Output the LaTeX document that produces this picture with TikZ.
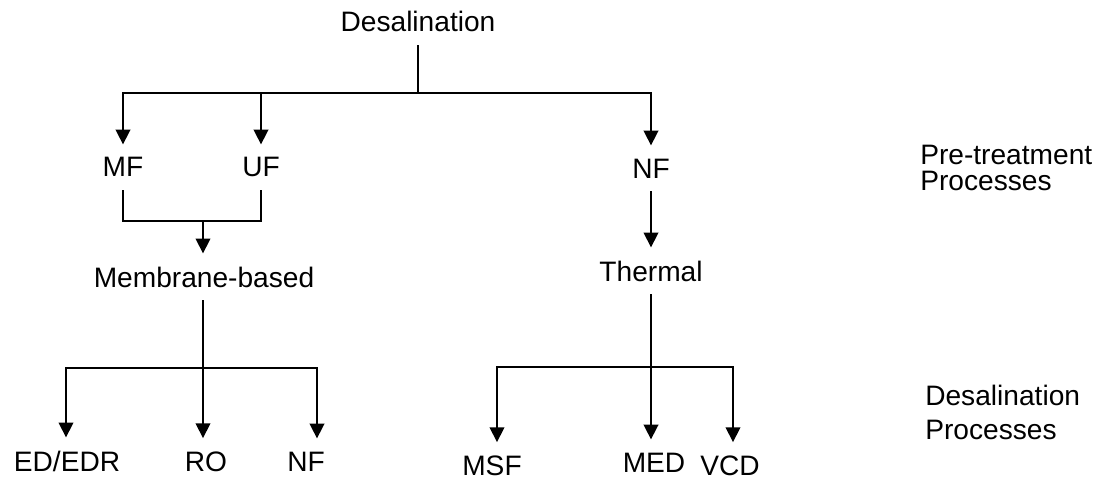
\documentclass[tikz,border=0pt]{standalone}
\usepackage{fontspec}
\setmainfont{Liberation Sans}
\usetikzlibrary{arrows.meta}

\begin{document}
\begin{tikzpicture}[
    x=0.025cm, y=-0.025cm,
    txt/.style={font=\fontsize{20}{24}\selectfont,inner sep=0pt,outer sep=0.33cm,anchor=base},
    side/.style={font=\fontsize{20}{#1}\selectfont,inner sep=0pt,align=left,anchor=north west},
    link/.style={line width=1.8pt},
    arr/.style={link,-{Triangle[width=0.36cm,length=0.37cm]}}
    ]
    \useasboundingbox (0,0) rectangle (1099,479);

    % process names
    \node[txt] (top) at (418,32)  {Desalination};
    \node[txt] (mf)  at (123,177) {MF};
    \node[txt] (uf)  at (261,177) {UF};
    \node[txt] (nf)  at (651,178) {NF};
    \node[txt] (mem) at (204,287) {Membrane-based};
    \node[txt] (th)  at (651,281) {Thermal};
    \node[txt] (ed)  at (67,471)  {ED/EDR};
    \node[txt] (ro)  at (206,471) {RO};
    \node[txt] (nfm) at (306,471) {NF};
    \node[txt] (msf) at (492,475) {MSF};
    \node[txt] (med) at (654,472) {MED};
    \node[txt] (vcd) at (730,475) {VCD};

    % stage names on the right
    \node[side=18.4] (pre) at (920,145) {Pre-treatment\\Processes};
    \node[side=24.1] (des) at (925,385) {Desalination\\Processes};

    % junctions
    \coordinate (b1)  at (418,93);
    \coordinate (b2)  at (203,221);
    \coordinate (b3)  at (203,368);
    \coordinate (b3l) at (66,368);
    \coordinate (b3r) at (317,368);
    \coordinate (b4)  at (651,367);
    \coordinate (b4l) at (497,367);
    \coordinate (b4r) at (733,367);

    % pre-treatment
    \draw[link] (top.south) -- (b1);
    \foreach \n in {mf,uf,nf}
        \draw[arr] (b1) -| (\n.north);
    \draw[link] (mf.south) |- (uf.south |- b2) -- (uf.south);
    \draw[arr] (b2) -- (b2 |- mem.north);
    \draw[arr] (nf.south) -- (th.north);

    % membrane-based branch
    \draw[link] (mem.south -| b3) -- (b3);
    \draw[arr] (b3) -- (b3l) -- (b3l |- ed.north);
    \draw[arr] (b3) -- (b3 |- ro.north);
    \draw[arr] (b3) -- (b3r) -- (b3r |- nfm.north);

    % thermal branch
    \draw[link] (th.south) -- (b4);
    \draw[arr] (b4) -- (b4l) -- (b4l |- msf.north);
    \draw[arr] (b4) -- (b4 |- med.north);
    \draw[arr] (b4) -- (b4r) -- (b4r |- vcd.north);
\end{tikzpicture}
\end{document}
